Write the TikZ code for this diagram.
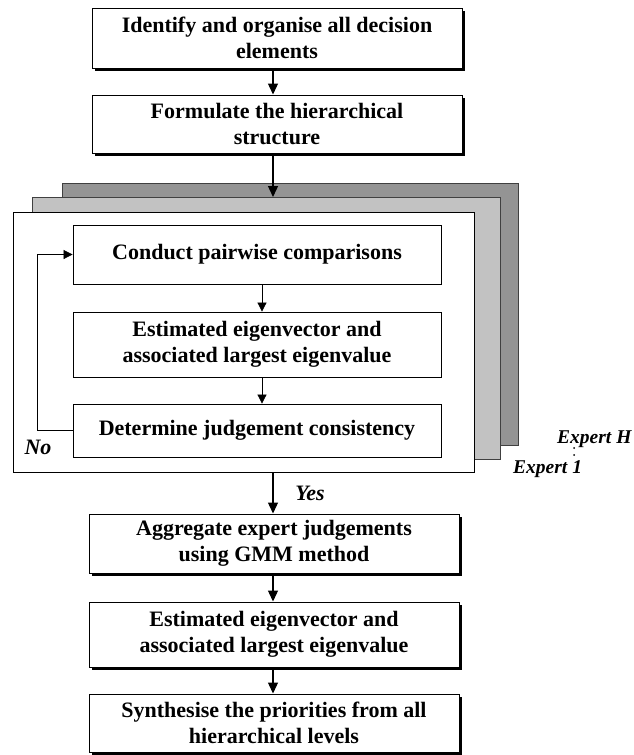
\documentclass[tikz,border=0pt]{standalone}
\usepackage{fontspec}
\setmainfont{Liberation Serif}
\usetikzlibrary{arrows.meta,shadows}
\begin{document}
\begin{tikzpicture}[x=1pt,y=-1pt,
  boxfont/.style={font=\fontsize{22}{25.5}\selectfont\bfseries},
  mainbox/.style={boxfont, draw, line width=1pt, fill=white, minimum width=370pt,
    align=center, inner sep=0pt,
    drop shadow={shadow xshift=2.5pt, shadow yshift=-2.5pt, fill=black, opacity=1}},
  innerbox/.style={boxfont, draw, line width=0.8pt, fill=white, minimum width=368pt,
    align=center, inner sep=0pt},
  layer/.style={draw=black!75, line width=0.8pt, inner sep=0pt, anchor=north west},
  flow/.style={-{Triangle[length=11pt,width=10pt]}, line width=1.3pt},
  innerflow/.style={-{Triangle[length=9pt,width=9pt]}, line width=0.7pt},
  lbl/.style={font=\fontsize{22}{26}\selectfont\bfseries\itshape, inner sep=0pt},
  explbl/.style={font=\fontsize{19.5}{22}\selectfont\bfseries\itshape, inner sep=0pt, anchor=base west}
]
\useasboundingbox (0,0) rectangle (633,755);
\coordinate (ax) at (273,0);
\coordinate (ix) at (262,0);

% stacked expert layers
\node[layer, fill=black!42, minimum width=456pt, minimum height=262pt] (back) at (62,183) {};
\node[layer, fill=black!24, minimum width=468pt, minimum height=262pt] (middle) at (32,197) {};
\node[draw, line width=0.8pt, fill=white, inner sep=0pt, anchor=north west,
      minimum width=461pt, minimum height=260pt] (front) at (13,212) {};

% top boxes
\node[mainbox, minimum height=60pt] (b1) at (277,38) {Identify and organise all decision\\elements};
\node[mainbox, minimum height=58pt] (b2) at (277,124) {Formulate the hierarchical\\structure};

% inner boxes
\node[innerbox, minimum height=59pt] (cpc) at (257,254.5) {Conduct pairwise comparisons};
\node[innerbox, minimum height=65pt] (eig1) at (257,344.5) {Estimated eigenvector and\\associated largest eigenvalue};
\node[innerbox, minimum height=53pt] (djc) at (257,430.5) {Determine judgement consistency};

% bottom boxes
\node[mainbox, minimum height=59pt] (agg) at (274,543.5) {Aggregate expert judgements\\using GMM method};
\node[mainbox, minimum height=65pt] (eig2) at (274,634.5) {Estimated eigenvector and\\associated largest eigenvalue};
\node[mainbox, minimum height=58pt] (syn) at (274,723) {Synthesise the priorities from all\\hierarchical levels};

% connectors
\draw[flow] (b1.south -| ax) -- (b2.north -| ax);
\draw[flow] (b2.south -| ax) -- (middle.north -| ax);
\draw[innerflow] (cpc.south -| ix) -- (eig1.north -| ix);
\draw[innerflow] (eig1.south -| ix) -- (djc.north -| ix);
\draw[innerflow] (djc.west) -- ++(-35,0) |- (cpc.west);
\draw[flow] (front.south -| ax) -- (agg.north -| ax);
\draw[flow] (agg.south -| ax) -- (eig2.north -| ax);
\draw[flow] (eig2.south -| ax) -- (syn.north -| ax);

% labels
\node[lbl] (no) at (38,447) {No};
\node[lbl] (yes) at (310,493) {Yes};
\node[explbl] (exH) at (557,443) {Expert H};
\node[explbl] (ex1) at (513,473) {Expert 1};
\fill (574,448) circle (1pt);
\fill (574,455) circle (1pt);
\end{tikzpicture}
\end{document}
